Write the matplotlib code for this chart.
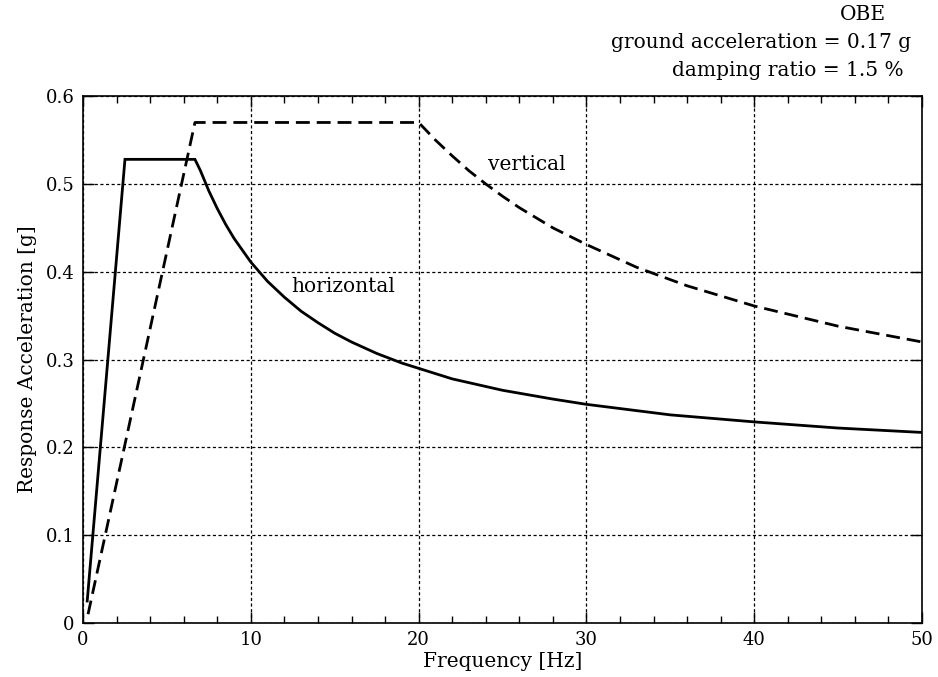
import matplotlib

matplotlib.use("Agg")  # headless mode
import matplotlib.pyplot as plt
from matplotlib.ticker import MultipleLocator

# Horizontal response spectrum
horiz_freq = [0.25, 2.5, 6.67, 7.0, 7.5, 8.0, 8.5, 9.0, 10, 11, 12, 13, 14, 15, 16,
              17.5, 19, 20, 22, 25, 28, 30, 35, 40, 45, 50]
horiz_acc = [0.025, 0.528, 0.528, 0.515, 0.492, 0.472, 0.454, 0.438, 0.411, 0.389,
             0.371, 0.355, 0.342, 0.330, 0.320, 0.307, 0.296, 0.290, 0.278, 0.265,
             0.255, 0.249, 0.237, 0.229, 0.222, 0.217]

# Vertical response spectrum
vert_freq = [0.3, 6.67, 20, 21, 22, 23, 24, 25, 26, 28, 30, 33, 36, 40, 45, 50]
vert_acc = [0.01, 0.570, 0.570, 0.550, 0.532, 0.515, 0.500, 0.486, 0.473, 0.450,
            0.431, 0.405, 0.384, 0.361, 0.338, 0.320]

x_ticks = [0, 10, 20, 30, 40, 50]
y_ticks = [0, 0.1, 0.2, 0.3, 0.4, 0.5, 0.6]
y_tick_labels = ["0", "0.1", "0.2", "0.3", "0.4", "0.5", "0.6"]

header_lines = ["OBE", "ground acceleration = 0.17 g", "damping ratio = 1.5 %"]

plt.rcParams["font.family"] = "DejaVu Serif"
plt.rcParams["font.size"] = 13
label_size = 14.5

fig = plt.figure(figsize=(9.38, 6.77), dpi=100)
ax = fig.add_axes([0.0885, 0.0798, 0.8945, 0.7782])

ax.plot(horiz_freq, horiz_acc, color="black", lw=2.0, solid_joinstyle="miter")
ax.plot(vert_freq, vert_acc, color="black", lw=2.0, dashes=(5, 2.5))

ax.set_xlim(0, 50)
ax.set_ylim(0, 0.6)
ax.set_xticks(x_ticks)
ax.set_yticks(y_ticks)
ax.set_yticklabels(y_tick_labels)
ax.xaxis.set_minor_locator(MultipleLocator(2))

ax.tick_params(which="both", direction="in", top=True, right=True, width=1)
ax.tick_params(which="major", length=8, pad=6)
ax.tick_params(which="minor", length=5)

ax.grid(True, which="major", color="black", lw=0.9, linestyle=(0, (2.5, 2)))
for s in ax.spines.values():
    s.set_linewidth(1.2)

ax.set_xlabel("Frequency [Hz]", labelpad=2, fontsize=label_size)
ax.set_ylabel("Response Acceleration [g]", labelpad=6, fontsize=label_size)

ax.text(24.15, 0.522, "vertical", ha="left", va="center", fontsize=label_size)
ax.text(12.4, 0.383, "horizontal", ha="left", va="center", fontsize=label_size)

fig.text(0.92, 0.978, header_lines[0], ha="center", va="center", fontsize=label_size)
fig.text(0.971, 0.937, header_lines[1], ha="right", va="center", fontsize=label_size)
fig.text(0.963, 0.896, header_lines[2], ha="right", va="center", fontsize=label_size)

fig.savefig("out.png", dpi=100)
